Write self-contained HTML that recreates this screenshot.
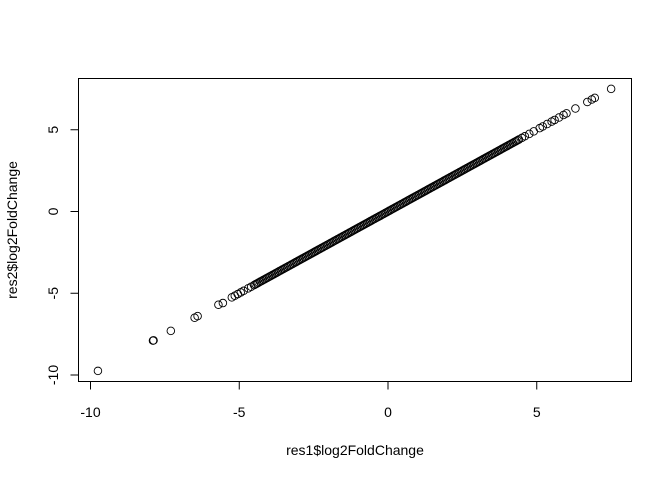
<!DOCTYPE html>
<html><head><meta charset="utf-8"><style>
html,body{margin:0;padding:0;background:#fff;}
svg text{font-family:"Liberation Sans",sans-serif;font-size:14px;fill:#000;}
</style></head><body>
<svg id="chart" width="672" height="480" viewBox="0 0 672 480" xmlns="http://www.w3.org/2000/svg">
<rect x="78.5" y="78.5" width="553" height="303" fill="none" stroke="#000" stroke-width="1"/>
<g id="pts"></g>
<g id="axes"></g>
<text x="355" y="455" text-anchor="middle">res1$log2FoldChange</text>
<text transform="translate(17,230) rotate(-90)" text-anchor="middle">res2$log2FoldChange</text>
</svg>
<script>
const xTicks=[-10,-5,0,5];
const yTicks=[-10,-5,0,5];
const xTickLabels=["-10","-5","0","5"];
const yTickLabels=["-10","-5","0","5"];
const xs=[-9.75,-7.9,-7.88,-7.3,-6.5,-6.4,-5.7,-5.55,-5.25,-5.15,-5.05,-4.95,-4.85,-4.7,-4.6,
-4.50,-4.45,-4.40,-4.35,-4.30,-4.25,-4.20,-4.15,-4.10,-4.05,-4.00,-3.95,-3.90,-3.85,-3.80,-3.75,-3.70,-3.65,-3.60,-3.55,-3.50,-3.45,-3.40,-3.35,-3.30,-3.25,-3.20,-3.15,-3.10,-3.05,-3.00,-2.95,-2.90,-2.85,-2.80,-2.75,-2.70,-2.65,-2.60,-2.55,-2.50,-2.45,-2.40,-2.35,-2.30,-2.25,-2.20,-2.15,-2.10,-2.05,-2.00,-1.95,-1.90,-1.85,-1.80,-1.75,-1.70,-1.65,-1.60,-1.55,-1.50,-1.45,-1.40,-1.35,-1.30,-1.25,-1.20,-1.15,-1.10,-1.05,-1.00,-0.95,-0.90,-0.85,-0.80,-0.75,-0.70,-0.65,-0.60,-0.55,-0.50,-0.45,-0.40,-0.35,-0.30,-0.25,-0.20,-0.15,-0.10,-0.05,0.00,0.05,0.10,0.15,0.20,0.25,0.30,0.35,0.40,0.45,0.50,0.55,0.60,0.65,0.70,0.75,0.80,0.85,0.90,0.95,1.00,1.05,1.10,1.15,1.20,1.25,1.30,1.35,1.40,1.45,1.50,1.55,1.60,1.65,1.70,1.75,1.80,1.85,1.90,1.95,2.00,2.05,2.10,2.15,2.20,2.25,2.30,2.35,2.40,2.45,2.50,2.55,2.60,2.65,2.70,2.75,2.80,2.85,2.90,2.95,3.00,3.05,3.10,3.15,3.20,3.25,3.30,3.35,3.40,3.45,3.50,3.55,3.60,3.65,3.70,3.75,3.80,3.85,3.90,3.95,4.00,4.05,4.10,4.15,4.20,4.25,4.30,4.35,4.40,
4.5,4.6,4.75,4.9,5.1,5.2,5.35,5.5,5.6,5.75,5.9,6.0,6.3,6.7,6.85,6.95,7.5];
const ys=[-9.75,-7.9,-7.88,-7.3,-6.5,-6.4,-5.7,-5.6,-5.25,-5.15,-5.05,-4.95,-4.85,-4.7,-4.6,
-4.50,-4.45,-4.40,-4.35,-4.30,-4.25,-4.20,-4.15,-4.10,-4.05,-4.00,-3.95,-3.90,-3.85,-3.80,-3.75,-3.70,-3.65,-3.60,-3.55,-3.50,-3.45,-3.40,-3.35,-3.30,-3.25,-3.20,-3.15,-3.10,-3.05,-3.00,-2.95,-2.90,-2.85,-2.80,-2.75,-2.70,-2.65,-2.60,-2.55,-2.50,-2.45,-2.40,-2.35,-2.30,-2.25,-2.20,-2.15,-2.10,-2.05,-2.00,-1.95,-1.90,-1.85,-1.80,-1.75,-1.70,-1.65,-1.60,-1.55,-1.50,-1.45,-1.40,-1.35,-1.30,-1.25,-1.20,-1.15,-1.10,-1.05,-1.00,-0.95,-0.90,-0.85,-0.80,-0.75,-0.70,-0.65,-0.60,-0.55,-0.50,-0.45,-0.40,-0.35,-0.30,-0.25,-0.20,-0.15,-0.10,-0.05,0.00,0.05,0.10,0.15,0.20,0.25,0.30,0.35,0.40,0.45,0.50,0.55,0.60,0.65,0.70,0.75,0.80,0.85,0.90,0.95,1.00,1.05,1.10,1.15,1.20,1.25,1.30,1.35,1.40,1.45,1.50,1.55,1.60,1.65,1.70,1.75,1.80,1.85,1.90,1.95,2.00,2.05,2.10,2.15,2.20,2.25,2.30,2.35,2.40,2.45,2.50,2.55,2.60,2.65,2.70,2.75,2.80,2.85,2.90,2.95,3.00,3.05,3.10,3.15,3.20,3.25,3.30,3.35,3.40,3.45,3.50,3.55,3.60,3.65,3.70,3.75,3.80,3.85,3.90,3.95,4.00,4.05,4.10,4.15,4.20,4.25,4.30,4.35,4.40,
4.5,4.6,4.75,4.9,5.1,5.2,5.35,5.5,5.6,5.75,5.9,6.0,6.3,6.7,6.85,6.95,7.5];
const NS="http://www.w3.org/2000/svg";
function sx(v){return 388+v*29.75;}
function sy(v){return 211.5-v*16.35;}
const pts=document.getElementById('pts');
for(let i=0;i<xs.length;i++){
  const c=document.createElementNS(NS,'circle');
  c.setAttribute('cx',sx(xs[i]));c.setAttribute('cy',sy(ys[i]));c.setAttribute('r',3.8);
  c.setAttribute('fill','none');c.setAttribute('stroke','#000');c.setAttribute('stroke-width','0.9');
  
  
  pts.appendChild(c);
}
const ax=document.getElementById('axes');
function line(x1,y1,x2,y2,name){
  const l=document.createElementNS(NS,'line');
  l.setAttribute('x1',x1);l.setAttribute('y1',y1);l.setAttribute('x2',x2);l.setAttribute('y2',y2);
  l.setAttribute('stroke','#000');
  
  
  ax.appendChild(l);
}
line(sx(xTicks[0]),381.5,sx(xTicks[xTicks.length-1]),381.5,'x-axis-line');
xTicks.forEach((t,i)=>{
  line(sx(t),381.5,sx(t),389.5,'x-tick');
  const tx=document.createElementNS(NS,'text');
  tx.setAttribute('x',sx(t));tx.setAttribute('y',417);tx.setAttribute('text-anchor','middle');
  tx.textContent=xTickLabels[i];
  
  
  ax.appendChild(tx);
});
line(78.5,sy(yTicks[0]),78.5,sy(yTicks[yTicks.length-1]),'y-axis-line');
yTicks.forEach((t,i)=>{
  line(70.5,sy(t),78.5,sy(t),'y-tick');
  const tx=document.createElementNS(NS,'text');
  tx.setAttribute('transform','translate(58,'+sy(t)+') rotate(-90)');tx.setAttribute('text-anchor','middle');
  tx.textContent=yTickLabels[i];
  
  
  ax.appendChild(tx);
});
</script>
</body></html>
